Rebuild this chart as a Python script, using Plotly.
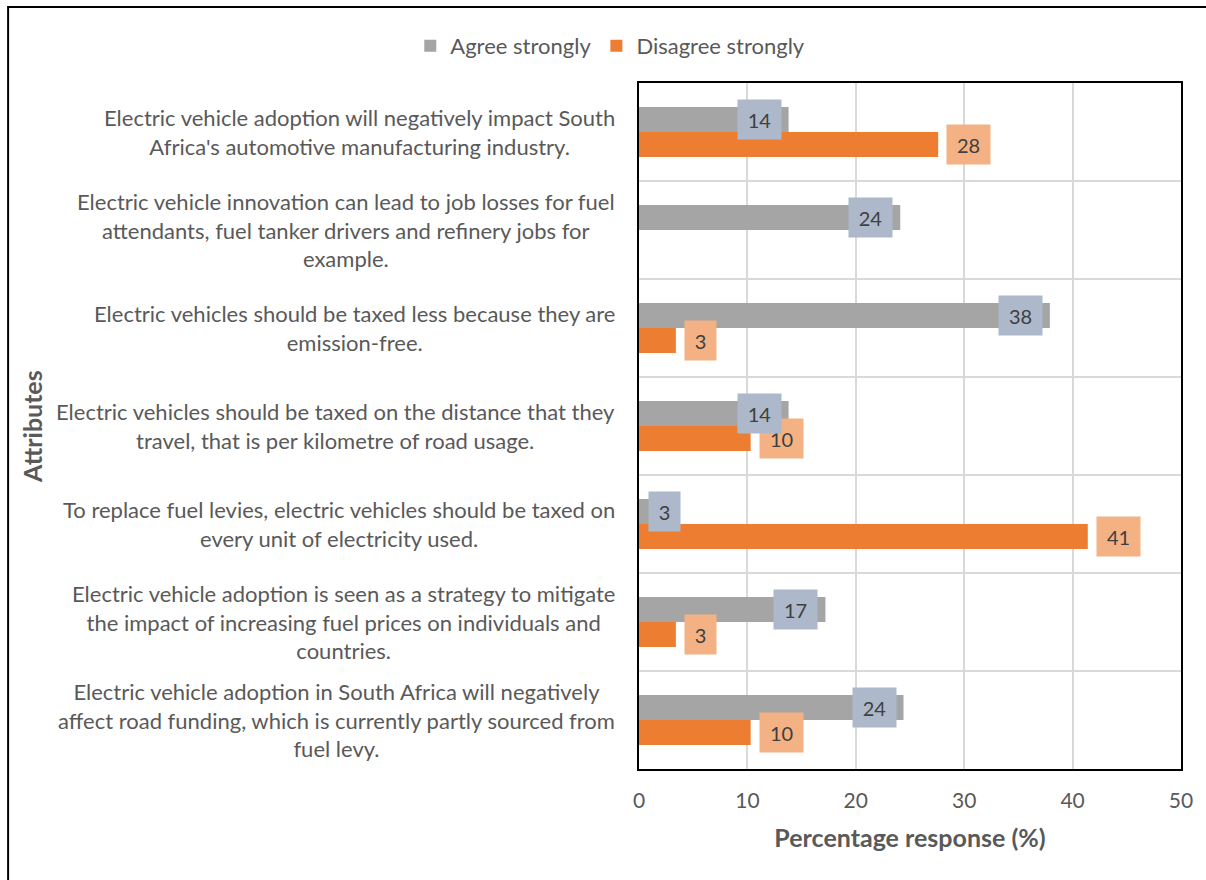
import plotly.graph_objects as go

# Survey statements, listed top to bottom as they appear on the chart
categories = [
    "Electric vehicle adoption will negatively impact South<br>Africa's automotive manufacturing industry.",
    "Electric vehicle innovation can lead to job losses for fuel<br>attendants, fuel tanker drivers and refinery jobs for<br>example.",
    "Electric vehicles should be taxed less because they are<br>emission-free.",
    "Electric vehicles should be taxed on the distance that they<br>travel, that is per kilometre of road usage.",
    "To replace fuel levies, electric vehicles should be taxed on<br>every unit of electricity used.",
    "Electric vehicle adoption is seen as a strategy to mitigate<br>the impact of increasing fuel prices on individuals and<br>countries.",
    "Electric vehicle adoption in South Africa will negatively<br>affect road funding, which is currently partly sourced from<br>fuel levy.",
]

# Percentage of respondents per statement
agree_strongly = [13.8, 24.1, 37.9, 13.8, 3.4, 17.2, 24.4]
disagree_strongly = [27.6, None, 3.4, 10.3, 41.4, 3.4, 10.3]

series_names = ["Agree strongly", "Disagree strongly"]
x_ticks = [0, 10, 20, 30, 40, 50]

FONT = "Lato"
GREY = "#A5A5A5"
ORANGE = "#ED7D31"
GREY_LABEL_BG = "#ADB9CA"
ORANGE_LABEL_BG = "#F4B183"
TEXT = "#595959"
LABEL_TEXT = "#404040"

PLOT_W = 542          # plot area width in px
X_MAX = 50
PX_PER_UNIT = PLOT_W / X_MAX

fig = go.Figure()
fig.add_trace(go.Bar(
    y=categories, x=agree_strongly, orientation="h", name=series_names[0],
    marker=dict(color=GREY, line=dict(width=0)),
))
fig.add_trace(go.Bar(
    y=categories, x=disagree_strongly, orientation="h", name=series_names[1],
    marker=dict(color=ORANGE, line=dict(width=0)),
))

annotations = []


def label_width(txt):
    return 17 + 12 * len(txt)


# Orange labels sit just past the bar end
for cat, v in zip(categories, disagree_strongly):
    if v is None:
        continue
    txt = f"{v:.0f}"
    annotations.append(dict(
        x=v, y=cat, xref="x", yref="y", text=txt, showarrow=False,
        xanchor="left", xshift=8, yshift=-12.5,
        bgcolor=ORANGE_LABEL_BG, width=label_width(txt), height=37,
        font=dict(family=FONT, size=20, color=LABEL_TEXT),
    ))

# Grey labels sit inside the bar end; short bars pin the label to the base
for cat, v in zip(categories, agree_strongly):
    if v is None:
        continue
    txt = f"{v:.0f}"
    w = label_width(txt)
    if v * PX_PER_UNIT - 7 - w < 9:
        pos = dict(x=0, xanchor="left", xshift=9)
    else:
        pos = dict(x=v, xanchor="right", xshift=-7)
    annotations.append(dict(
        y=cat, xref="x", yref="y", text=txt, showarrow=False,
        yshift=12.5, bgcolor=GREY_LABEL_BG, width=w, height=37,
        font=dict(family=FONT, size=20, color=LABEL_TEXT), **pos,
    ))

# Category labels, centred line by line and right-aligned to the axis
for cat in categories:
    annotations.append(dict(
        x=0, y=cat, xref="paper", yref="y", text=cat, showarrow=False,
        xanchor="right", xshift=-22, align="center",
        font=dict(family=FONT, size=22, color=TEXT),
    ))

# Vertical axis title
annotations.append(dict(
    x=-1.12, y=0.5, xref="paper", yref="paper", text="<b>Attributes</b>",
    showarrow=False, textangle=-90, xanchor="center", yanchor="middle",
    font=dict(family=FONT, size=25, color=TEXT),
))

fig.update_layout(
    width=1206, height=880,
    margin=dict(l=639, r=25, t=83, b=111),
    paper_bgcolor="white", plot_bgcolor="white",
    barmode="group", bargap=0.49, bargroupgap=0,
    font=dict(family=FONT, size=20, color=TEXT),
    showlegend=True,
    legend=dict(
        orientation="h", x=-0.053, y=1.054, xanchor="center", yanchor="middle",
        font=dict(family=FONT, size=22, color=TEXT),
        itemsizing="constant", traceorder="normal", itemwidth=30,
    ),
    annotations=annotations,
    shapes=[dict(
        type="rect", xref="paper", yref="paper",
        x0=-1.164, x1=1.06, y0=-0.2, y1=1.1108,
        line=dict(color="black", width=2), fillcolor="rgba(0,0,0,0)",
        layer="above",
    )],
)

fig.update_xaxes(
    range=[0, X_MAX], tickvals=x_ticks, ticks="", showgrid=True,
    gridcolor="#D9D9D9", gridwidth=2, zeroline=False,
    showline=True, linecolor="black", linewidth=2, mirror=True,
    tickfont=dict(family=FONT, size=21, color=TEXT),
    ticklabelstandoff=12,
    title=dict(text="<b>Percentage response (%)</b>", standoff=18,
               font=dict(family=FONT, size=25, color=TEXT)),
)
fig.update_yaxes(
    autorange="reversed", showticklabels=False, ticks="",
    tickson="boundaries", showgrid=True, gridcolor="#D9D9D9", gridwidth=2,
    showline=True, linecolor="black", linewidth=2, mirror=True,
)

fig.write_html("out.html")
